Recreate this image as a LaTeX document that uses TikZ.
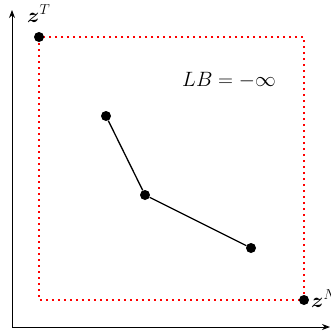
\documentclass[tikz,border=0pt]{standalone}
\usepackage{amsmath,amssymb}
\usetikzlibrary{arrows.meta}
\begin{document}
\begin{tikzpicture}[x=1pt,y=-1pt,
  dot/.style={circle,fill=black,inner sep=0pt,minimum size=10pt},
  lbl/.style={font=\fontsize{20}{24}\selectfont,inner sep=0pt},
  axis/.style={line width=0.9pt,-{Stealth[length=8pt,width=6pt]}}]
\useasboundingbox (0,0) rectangle (331,335);
\clip (0,0) rectangle (331,335);
\coordinate (O) at (12,327);
\coordinate (Y) at (12,10);
\coordinate (X) at (330,327);
\draw[axis] (O) -- (Y);
\draw[axis] (O) -- (X);
\draw[red,dotted,line width=1.6pt,dash pattern=on 1.6pt off 4.4pt] (39,37) rectangle (304,300);
\node[dot] (zT) at (39,37) {};
\node[dot] (zN) at (304,300) {};
\node[dot] (a) at (106,116) {};
\node[dot] (b) at (145,195) {};
\node[dot] (c) at (251,248) {};
\draw[line width=1.3pt] (a) -- (b) -- (c);
\node[lbl,anchor=base west] (tT) at (27,22) {$\boldsymbol{z}^T$};
\node[lbl,anchor=base west] (tN) at (311,307) {$\boldsymbol{z}^N$};
\node[lbl] (lb) at (229,80) {$LB=-\infty$};
\end{tikzpicture}
\end{document}
